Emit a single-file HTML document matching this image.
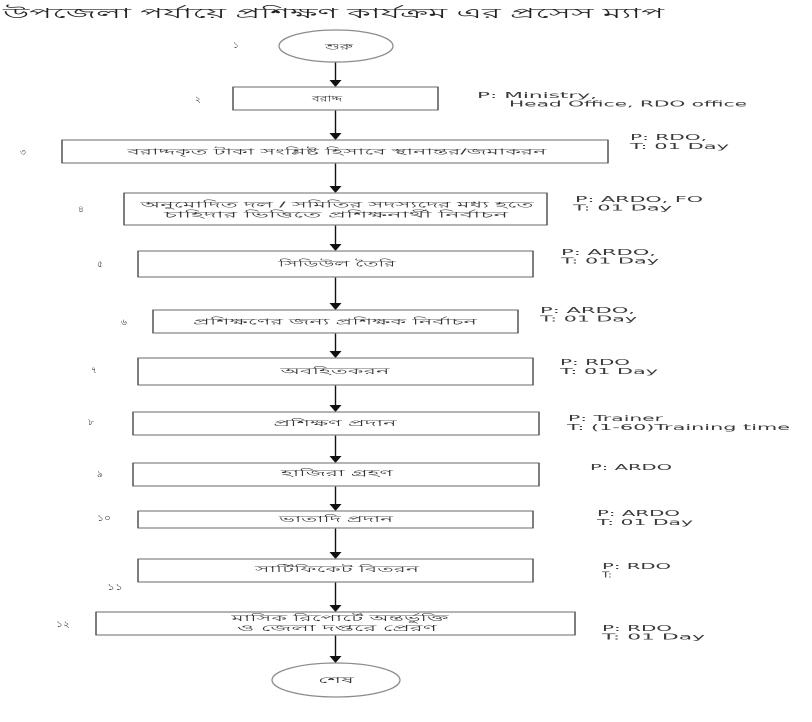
<!DOCTYPE html>
<html>
<head>
<meta charset="utf-8">
<style>
  html,body{margin:0;padding:0;background:#fff;}
  svg{display:block;}
  .bn{font-family:"Liberation Sans","Noto Sans CJK SC",sans-serif;fill:#333;}
  .en{font-family:"DejaVu Sans","Liberation Sans",sans-serif;fill:#3a3a3a;font-size:8px;}
  .box{fill:#fff;stroke:#8c8c8c;stroke-width:1.3;}
  .side{stroke:#4a4a4a;stroke-width:1.3;}
  .ln{stroke:#111;stroke-width:1.4;}
  .ah{fill:#111;}
</style>
</head>
<body>
<svg width="812" height="722" viewBox="0 0 812 722" xmlns="http://www.w3.org/2000/svg">
  <rect width="812" height="722" fill="#fff"/>

  <!-- Title -->
  <text class="bn" x="3" y="18" font-size="14" textLength="661" lengthAdjust="spacingAndGlyphs" style="fill:#222">উপজেলা পর্যায়ে প্রশিক্ষণ কার্যক্রম এর প্রসেস ম্যাপ</text>

  <!-- Connectors -->
  <g>
    <line class="ln" x1="335.5" y1="62" x2="335.5" y2="81"/><polygon class="ah" points="329.5,80 341.5,80 335.5,87"/>
    <line class="ln" x1="335.5" y1="110" x2="335.5" y2="134"/><polygon class="ah" points="329.5,133 341.5,133 335.5,140"/>
    <line class="ln" x1="335.5" y1="163" x2="335.5" y2="187"/><polygon class="ah" points="329.5,186 341.5,186 335.5,193"/>
    <line class="ln" x1="335.5" y1="225" x2="335.5" y2="245"/><polygon class="ah" points="329.5,244 341.5,244 335.5,251"/>
    <line class="ln" x1="335.5" y1="277" x2="335.5" y2="304"/><polygon class="ah" points="329.5,303 341.5,303 335.5,310"/>
    <line class="ln" x1="335.5" y1="333" x2="335.5" y2="352"/><polygon class="ah" points="329.5,351 341.5,351 335.5,358"/>
    <line class="ln" x1="335.5" y1="385" x2="335.5" y2="406"/><polygon class="ah" points="329.5,405 341.5,405 335.5,412"/>
    <line class="ln" x1="335.5" y1="435" x2="335.5" y2="457"/><polygon class="ah" points="329.5,456 341.5,456 335.5,463"/>
    <line class="ln" x1="335.5" y1="486" x2="335.5" y2="505"/><polygon class="ah" points="329.5,504 341.5,504 335.5,511"/>
    <line class="ln" x1="335.5" y1="528" x2="335.5" y2="553"/><polygon class="ah" points="329.5,552 341.5,552 335.5,559"/>
    <line class="ln" x1="335.5" y1="582" x2="335.5" y2="606"/><polygon class="ah" points="329.5,605 341.5,605 335.5,612"/>
    <line class="ln" x1="335.5" y1="635" x2="335.5" y2="657"/><polygon class="ah" points="329.5,656 341.5,656 335.5,663"/>
  </g>

  <!-- Start ellipse -->
  <ellipse cx="336" cy="46" rx="57" ry="16" fill="#fff" stroke="#8c8c8c" stroke-width="1.3"/>
  <text class="bn" x="339" y="49.5" font-size="8.5" text-anchor="middle" textLength="28" lengthAdjust="spacingAndGlyphs">শুরু</text>

  <!-- Boxes -->
  <rect class="box" x="233" y="87" width="205" height="23"/>
  <line class="side" x1="233" y1="87" x2="233" y2="110"/><line class="side" x1="438" y1="87" x2="438" y2="110"/>
  <text class="bn" x="327" y="101.5" font-size="8.5" text-anchor="middle" textLength="30" lengthAdjust="spacingAndGlyphs">বরাদ্দ</text>

  <rect class="box" x="62" y="140" width="546" height="23"/>
  <line class="side" x1="62" y1="140" x2="62" y2="163"/><line class="side" x1="608" y1="140" x2="608" y2="163"/>
  <text class="bn" x="337" y="154.5" font-size="8.5" text-anchor="middle" textLength="419" lengthAdjust="spacingAndGlyphs">বরাদ্দকৃত টাকা সংশ্লিষ্ট হিসাবে স্থানান্তর/জমাকরন</text>

  <rect class="box" x="124" y="193" width="423" height="32"/>
  <line class="side" x1="124" y1="193" x2="124" y2="225"/><line class="side" x1="547" y1="193" x2="547" y2="225"/>
  <text class="bn" x="337" y="207.5" font-size="8.5" text-anchor="middle" textLength="393" lengthAdjust="spacingAndGlyphs">অনুমোদিত দল / সমিতির সদস্যদের মধ্য হতে</text>
  <text class="bn" x="336" y="217.5" font-size="8.5" text-anchor="middle" textLength="344" lengthAdjust="spacingAndGlyphs">চাহিদার ভিত্তিতে প্রশিক্ষনার্থী নির্বাচন</text>

  <rect class="box" x="138" y="251" width="395" height="26"/>
  <line class="side" x1="138" y1="251" x2="138" y2="277"/><line class="side" x1="533" y1="251" x2="533" y2="277"/>
  <text class="bn" x="337" y="266.5" font-size="8.5" text-anchor="middle" textLength="117" lengthAdjust="spacingAndGlyphs">সিডিউল তৈরি</text>

  <rect class="box" x="153" y="310" width="365" height="23"/>
  <line class="side" x1="153" y1="310" x2="153" y2="333"/><line class="side" x1="518" y1="310" x2="518" y2="333"/>
  <text class="bn" x="335" y="324.5" font-size="8.5" text-anchor="middle" textLength="284" lengthAdjust="spacingAndGlyphs">প্রশিক্ষণের জন্য প্রশিক্ষক নির্বাচন</text>

  <rect class="box" x="138" y="358" width="395" height="27"/>
  <line class="side" x1="138" y1="358" x2="138" y2="385"/><line class="side" x1="533" y1="358" x2="533" y2="385"/>
  <text class="bn" x="335" y="374" font-size="8.5" text-anchor="middle" textLength="109" lengthAdjust="spacingAndGlyphs">অবহিতকরন</text>

  <rect class="box" x="133" y="412" width="406" height="23"/>
  <line class="side" x1="133" y1="412" x2="133" y2="435"/><line class="side" x1="539" y1="412" x2="539" y2="435"/>
  <text class="bn" x="335" y="426" font-size="8.5" text-anchor="middle" textLength="123" lengthAdjust="spacingAndGlyphs">প্রশিক্ষণ প্রদান</text>

  <rect class="box" x="133" y="463" width="406" height="23"/>
  <line class="side" x1="133" y1="463" x2="133" y2="486"/><line class="side" x1="539" y1="463" x2="539" y2="486"/>
  <text class="bn" x="337" y="476" font-size="8.5" text-anchor="middle" textLength="112" lengthAdjust="spacingAndGlyphs">হাজিরা গ্রহণ</text>

  <rect class="box" x="138" y="511" width="395" height="17"/>
  <line class="side" x1="138" y1="511" x2="138" y2="528"/><line class="side" x1="533" y1="511" x2="533" y2="528"/>
  <text class="bn" x="336" y="522" font-size="8.5" text-anchor="middle" textLength="114" lengthAdjust="spacingAndGlyphs">ভাতাদি প্রদান</text>

  <rect class="box" x="138" y="559" width="395" height="23"/>
  <line class="side" x1="138" y1="559" x2="138" y2="582"/><line class="side" x1="533" y1="559" x2="533" y2="582"/>
  <text class="bn" x="337" y="572" font-size="8.5" text-anchor="middle" textLength="164" lengthAdjust="spacingAndGlyphs">সার্টিফিকেট বিতরন</text>

  <rect class="box" x="96" y="612" width="479" height="23"/>
  <line class="side" x1="96" y1="612" x2="96" y2="635"/><line class="side" x1="575" y1="612" x2="575" y2="635"/>
  <text class="bn" x="340" y="621" font-size="8.5" text-anchor="middle" textLength="217" lengthAdjust="spacingAndGlyphs">মাসিক রিপোর্টে অন্তর্ভুক্তি</text>
  <text class="bn" x="337" y="631" font-size="8.5" text-anchor="middle" textLength="200" lengthAdjust="spacingAndGlyphs">ও জেলা দপ্তরে প্রেরণ</text>

  <!-- End ellipse -->
  <ellipse cx="336" cy="680" rx="64" ry="17" fill="#fff" stroke="#8c8c8c" stroke-width="1.3"/>
  <text class="bn" x="336" y="683" font-size="8.5" text-anchor="middle" textLength="36" lengthAdjust="spacingAndGlyphs">শেষ</text>

  <!-- Step numbers -->
  <g class="bn" font-size="9" style="fill:#444">
    <text x="233" y="48">১</text>
    <text x="195" y="102">২</text>
    <text x="20" y="155">৩</text>
    <text x="78" y="212">৪</text>
    <text x="97" y="267">৫</text>
    <text x="121" y="325">৬</text>
    <text x="91" y="373">৭</text>
    <text x="88" y="425">৮</text>
    <text x="97" y="477">৯</text>
    <text x="97" y="521" textLength="14" lengthAdjust="spacingAndGlyphs">১০</text>
    <text x="107" y="590" textLength="16" lengthAdjust="spacingAndGlyphs">১১</text>
    <text x="56" y="627" textLength="14" lengthAdjust="spacingAndGlyphs">১২</text>
  </g>

  <!-- Right-side annotations -->
  <g class="en" xml:space="preserve">
    <text x="477" y="98" textLength="120" lengthAdjust="spacingAndGlyphs">P:  Ministry,</text>
    <text x="509" y="106.5" textLength="238" lengthAdjust="spacingAndGlyphs">Head Office, RDO office</text>

    <text x="630" y="140" textLength="77" lengthAdjust="spacingAndGlyphs">P:  RDO,</text>
    <text x="630" y="149" textLength="99" lengthAdjust="spacingAndGlyphs">T:  01 Day</text>

    <text x="575" y="202" textLength="128" lengthAdjust="spacingAndGlyphs">P:  ARDO, FO</text>
    <text x="573" y="210.5" textLength="99" lengthAdjust="spacingAndGlyphs">T:  01 Day</text>

    <text x="561" y="255" textLength="95" lengthAdjust="spacingAndGlyphs">P:  ARDO,</text>
    <text x="561" y="263.5" textLength="98" lengthAdjust="spacingAndGlyphs">T:  01 Day</text>

    <text x="540" y="313" textLength="95" lengthAdjust="spacingAndGlyphs">P:  ARDO,</text>
    <text x="540" y="321.5" textLength="97" lengthAdjust="spacingAndGlyphs">T:  01 Day</text>

    <text x="560" y="365" textLength="70" lengthAdjust="spacingAndGlyphs">P: RDO</text>
    <text x="560" y="374" textLength="98" lengthAdjust="spacingAndGlyphs">T:  01 Day</text>

    <text x="568" y="421" textLength="95" lengthAdjust="spacingAndGlyphs">P: Trainer</text>
    <text x="567" y="430" textLength="223" lengthAdjust="spacingAndGlyphs">T:  (1-60)Training time</text>

    <text x="590" y="470" textLength="82" lengthAdjust="spacingAndGlyphs">P: ARDO</text>

    <text x="597" y="516" textLength="83" lengthAdjust="spacingAndGlyphs">P: ARDO</text>
    <text x="597" y="525" textLength="96" lengthAdjust="spacingAndGlyphs">T:  01 Day</text>

    <text x="602" y="569" textLength="69" lengthAdjust="spacingAndGlyphs">P: RDO</text>
    <text x="602" y="577.5" textLength="10" lengthAdjust="spacingAndGlyphs">T:</text>

    <text x="602" y="631" textLength="70" lengthAdjust="spacingAndGlyphs">P: RDO</text>
    <text x="602" y="639.5" textLength="103" lengthAdjust="spacingAndGlyphs">T:  01 Day</text>
  </g>
</svg>
</body>
</html>
